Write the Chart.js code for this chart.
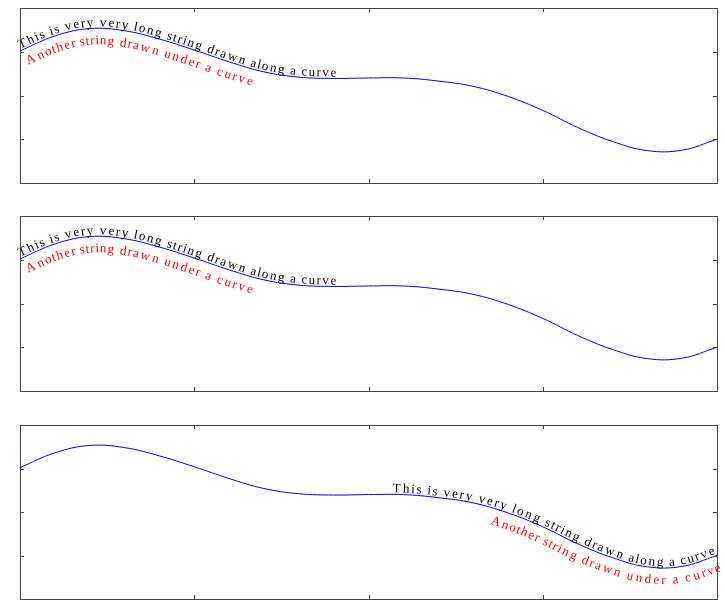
<!DOCTYPE html>
<html>
<head>
<meta charset="utf-8">
<script src="https://cdn.jsdelivr.net/npm/chart.js@4/dist/chart.umd.min.js"></script>
<style>
  html, body { margin: 0; padding: 0; background: #ffffff; }
  body { width: 725px; height: 601px; position: relative; overflow: hidden; }
  .panel { position: absolute; left: 0; width: 725px; }
  canvas { display: block; }
</style>
</head>
<body>
<div class="panel" style="top:0px;height:200px;"><canvas id="c1" width="725" height="200"></canvas></div>
<div class="panel" style="top:200px;height:205px;"><canvas id="c2" width="725" height="205"></canvas></div>
<div class="panel" style="top:405px;height:196px;"><canvas id="c3" width="725" height="196"></canvas></div>
<script>
// ---- data ----
const xValues = [0, 0.2, 0.4, 0.6, 0.8, 1.0, 1.2, 1.4, 1.6, 1.8, 2.0, 2.2, 2.4, 2.6, 2.8, 3.0, 3.2, 3.4, 3.6, 3.8, 4.0];
const yValues = [3.02, 3.36, 3.53, 3.48, 3.29, 3.04, 2.77, 2.54, 2.42, 2.39, 2.40, 2.40, 2.33, 2.21, 1.98, 1.66, 1.27, 0.95, 0.74, 0.75, 1.00];
const xTicks = [1, 2, 3];
const yTicks = [1, 2, 3];
const textAbove = "This is very very long string drawn along a curve";
const textBelow = "Another string drawn under a curve";
// where each string runs along the curve (in x-axis units), per panel
const placements = [
  { above: [0, 1.82], below: [0.0, 1.36] },
  { above: [0, 1.82], below: [0.0, 1.36] },
  { above: [2.13, 4.0], below: [2.72, 4.0] }
];

function buildPath(meta) {
  const pts = meta.data;
  const path = [];
  for (let i = 0; i < pts.length - 1; i++) {
    const p0 = pts[i], p3 = pts[i + 1];
    const c1x = p0.cp2x !== undefined ? p0.cp2x : p0.x;
    const c1y = p0.cp2y !== undefined ? p0.cp2y : p0.y;
    const c2x = p3.cp1x !== undefined ? p3.cp1x : p3.x;
    const c2y = p3.cp1y !== undefined ? p3.cp1y : p3.y;
    const n = 40;
    for (let k = (i === 0 ? 0 : 1); k <= n; k++) {
      const t = k / n, u = 1 - t;
      const x = u*u*u*p0.x + 3*u*u*t*c1x + 3*u*t*t*c2x + t*t*t*p3.x;
      const y = u*u*u*p0.y + 3*u*u*t*c1y + 3*u*t*t*c2y + t*t*t*p3.y;
      path.push({ x, y });
    }
  }
  let s = 0;
  path[0].s = 0;
  for (let i = 1; i < path.length; i++) {
    s += Math.hypot(path[i].x - path[i-1].x, path[i].y - path[i-1].y);
    path[i].s = s;
  }
  return path;
}

function arcAtX(path, px) {
  for (let i = 1; i < path.length; i++) {
    if (path[i].x >= px) {
      const a = path[i-1], b = path[i];
      const t = (px - a.x) / ((b.x - a.x) || 1);
      return a.s + t * (b.s - a.s);
    }
  }
  return path[path.length - 1].s;
}

function pointAtArc(path, s) {
  if (s <= 0) {
    const a = path[0], b = path[1];
    return { x: a.x, y: a.y, dx: b.x - a.x, dy: b.y - a.y };
  }
  for (let i = 1; i < path.length; i++) {
    if (path[i].s >= s) {
      const a = path[i-1], b = path[i];
      const t = (s - a.s) / ((b.s - a.s) || 1);
      return { x: a.x + t*(b.x - a.x), y: a.y + t*(b.y - a.y), dx: b.x - a.x, dy: b.y - a.y };
    }
  }
  const a = path[path.length-2], b = path[path.length-1];
  return { x: b.x, y: b.y, dx: b.x - a.x, dy: b.y - a.y };
}

function drawAlong(ctx, path, text, s0, s1, offset, color) {
  const chars = Array.from(text);
  const widths = chars.map(c => ctx.measureText(c).width);
  const total = widths.reduce((a, b) => a + b, 0);
  const k = (s1 - s0) / total;
  let s = s0;
  ctx.fillStyle = color;
  ctx.textAlign = 'center';
  ctx.textBaseline = 'alphabetic';
  chars.forEach((c, i) => {
    const w = widths[i] * k;
    const p = pointAtArc(path, s + w / 2);
    const len = Math.hypot(p.dx, p.dy) || 1;
    const tx = p.dx / len, ty = p.dy / len;
    // "up" normal in canvas space is (ty, -tx)
    const ox = p.x + ty * offset;
    const oy = p.y - tx * offset;
    ctx.save();
    ctx.translate(ox, oy);
    ctx.rotate(Math.atan2(ty, tx));
    if (c !== ' ') ctx.fillText(c, 0, 0);
    ctx.restore();
    s += w;
  });
}

const curveTextPlugin = {
  id: 'curveText',
  afterDatasetsDraw(chart) {
    const ctx = chart.ctx;
    const meta = chart.getDatasetMeta(0);
    const path = buildPath(meta);
    const xs = chart.scales.x;
    const pl = chart.options.plugins.curveText.placement;
    ctx.save();
    ctx.font = '13px "Liberation Serif", "Times New Roman", serif';
    const a0 = arcAtX(path, xs.getPixelForValue(pl.above[0]));
    const a1 = arcAtX(path, xs.getPixelForValue(pl.above[1]));
    drawAlong(ctx, path, textAbove, a0, a1, 2, '#000000');
    const b0 = arcAtX(path, xs.getPixelForValue(pl.below[0]));
    const b1 = arcAtX(path, xs.getPixelForValue(pl.below[1]));
    drawAlong(ctx, path, textBelow, b0, b1, -16, '#ff0000');
    ctx.restore();
  }
};

const frameAxesPlugin = {
  id: 'frameAxes',
  afterDraw(chart) {
    const ctx = chart.ctx;
    const a = chart.chartArea;
    const xs = chart.scales.x, ys = chart.scales.y;
    ctx.save();
    ctx.strokeStyle = '#444444';
    ctx.lineWidth = 1;
    ctx.strokeRect(Math.round(a.left) + 0.5, Math.round(a.top) + 0.5,
                   Math.round(a.right - a.left), Math.round(a.bottom - a.top));
    const tl = 4;
    ctx.beginPath();
    xTicks.forEach(v => {
      const px = Math.round(xs.getPixelForValue(v)) + 0.5;
      ctx.moveTo(px, a.top); ctx.lineTo(px, a.top + tl);
      ctx.moveTo(px, a.bottom); ctx.lineTo(px, a.bottom - tl);
    });
    yTicks.forEach(v => {
      const py = Math.round(ys.getPixelForValue(v)) + 0.5;
      ctx.moveTo(a.left, py); ctx.lineTo(a.left + tl, py);
      ctx.moveTo(a.right, py); ctx.lineTo(a.right - tl, py);
    });
    ctx.stroke();
    ctx.restore();
  }
};

function makeChart(id, pad, placement) {
  return new Chart(document.getElementById(id), {
    type: 'line',
    data: {
      labels: xValues,
      datasets: [{
        data: xValues.map((x, i) => ({ x: x, y: yValues[i] })),
        borderColor: '#0000ff',
        borderWidth: 1,
        pointRadius: 0,
        tension: 0.4,
        fill: false
      }]
    },
    options: {
      responsive: false,
      animation: false,
      events: [],
      layout: { padding: pad },
      plugins: {
        legend: { display: false },
        tooltip: { enabled: false },
        curveText: { placement: placement }
      },
      scales: {
        x: { type: 'linear', min: 0, max: 4, display: false },
        y: { type: 'linear', min: 0, max: 4, display: false }
      }
    },
    plugins: [curveTextPlugin, frameAxesPlugin]
  });
}

makeChart('c1', { left: 20, right: 8, top: 8, bottom: 17 }, placements[0]);
makeChart('c2', { left: 20, right: 8, top: 16, bottom: 14 }, placements[1]);
makeChart('c3', { left: 20, right: 8, top: 20, bottom: 2 }, placements[2]);
</script>
</body>
</html>
